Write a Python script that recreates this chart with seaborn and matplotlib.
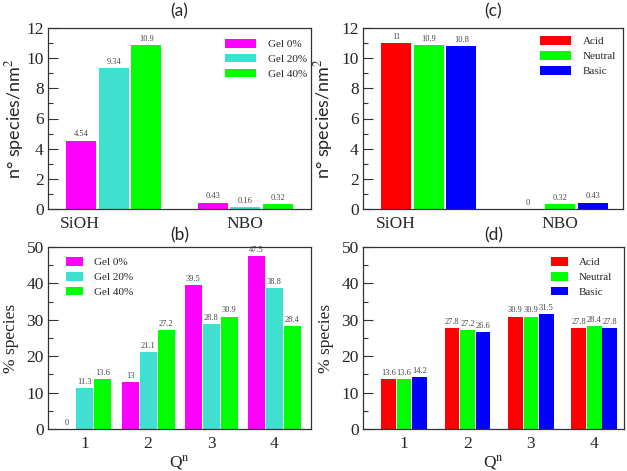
import matplotlib
matplotlib.use("Agg")
import matplotlib.pyplot as plt
import pandas as pd
import seaborn as sns
from matplotlib.ticker import MultipleLocator

# ---- data ----
sites = ['SiOH', 'NBO']
gel_levels = ['Gel 0%', 'Gel 20%', 'Gel 40%']
gel0_a = [4.54, 0.43]
gel20_a = [9.34, 0.16]
gel40_a = [10.9, 0.32]

ph_levels = ['Acid', 'Neutral', 'Basic']
acid_c = [11, 0]
neutral_c = [10.9, 0.32]
basic_c = [10.8, 0.43]

qn = ['1', '2', '3', '4']
gel0_b = [0, 13, 39.5, 47.5]
gel20_b = [11.3, 21.1, 28.8, 38.8]
gel40_b = [13.6, 27.2, 30.9, 28.4]

acid_d = [13.6, 27.8, 30.9, 27.8]
neutral_d = [13.6, 27.2, 30.9, 28.4]
basic_d = [14.2, 26.6, 31.5, 27.8]

gel_colors = ['#ff00ff', '#40e0d0', '#00ff00']
ph_colors = ['#ff0000', '#00ff00', '#0000ff']

sns.set_theme(style='white')
SERIF = ['Liberation Serif', 'DejaVu Serif']
SANS = ['Lato', 'DejaVu Sans']
plt.rcParams['font.family'] = SERIF
plt.rcParams['mathtext.fontset'] = 'stix'


def long_df(cats, levels, series):
    rows = []
    for lev, vals in zip(levels, series):
        for c, v in zip(cats, vals):
            rows.append({'cat': c, 'grp': lev, 'val': v})
    return pd.DataFrame(rows)


def px_axes(fig, l, r, t, b, W=627, H=471):
    return fig.add_axes([l / W, (H - b) / H, (r - l) / W, (b - t) / H])


def style_axes(ax, ymax, major, minor):
    ax.set_ylim(0, ymax)
    ax.yaxis.set_major_locator(MultipleLocator(major))
    ax.yaxis.set_minor_locator(MultipleLocator(minor))
    ax.tick_params(axis='y', which='major', direction='in', length=7, width=0.8,
                   labelsize=12.5, left=True, right=False, color='#333333', pad=3)
    ax.tick_params(axis='y', which='minor', direction='in', length=3.5, width=0.8,
                   left=True, right=False, color='#333333')
    ax.tick_params(axis='x', length=0, labelsize=12.5, pad=5)
    for s in ax.spines.values():
        s.set_color('#333333')
        s.set_linewidth(0.9)


def draw(ax, cats, levels, series, colors, width, gap):
    df = long_df(cats, levels, series)
    sns.barplot(data=df, x='cat', y='val', hue='grp', order=cats, hue_order=levels,
                palette=colors, width=width, gap=gap, saturation=1,
                linewidth=0, errorbar=None, ax=ax)
    for cont, vals in zip(ax.containers, series):
        ax.bar_label(cont, labels=[f'{v:g}' for v in vals], fontsize=6,
                     color='#444444', padding=1.5)
    ax.set_xlabel('')
    ax.set_ylabel('')


def legend(ax, x, y, hl, hh, tp):
    h, l = ax.get_legend_handles_labels()
    ax.legend(h, l, loc='upper left', bbox_to_anchor=(x, y), frameon=False,
              fontsize=8, handlelength=hl, handleheight=hh, handletextpad=tp,
              labelspacing=0.42, borderpad=0, borderaxespad=0)


fig = plt.figure(figsize=(6.27, 4.71), dpi=100)

# (a)
ax_a = px_axes(fig, 48, 311, 28, 209)
draw(ax_a, sites, gel_levels, [gel0_a, gel20_a, gel40_a], gel_colors, 0.745, 0.08)
style_axes(ax_a, 12, 2, 1)
ax_a.set_xlim(-0.5, 1.5)
ax_a.set_xticks([-0.26, 1], sites)
ax_a.set_ylabel(r'n° species/nm$^{2}$', fontsize=13, family=SANS)
ax_a.yaxis.set_label_coords(-0.085, 0.5)
ax_a.set_title('(a)', fontsize=12.5, family=SANS, pad=8)
legend(ax_a, 0.673, 0.94, 2.8, 0.83, 1.1)

# (c)
ax_c = px_axes(fig, 363, 623, 28, 209)
draw(ax_c, sites, ph_levels, [acid_c, neutral_c, basic_c], ph_colors, 0.745, 0.08)
style_axes(ax_c, 12, 2, 1)
ax_c.set_xlim(-0.5, 1.48)
ax_c.set_xticks([-0.25, 1], sites)
ax_c.set_ylabel(r'n° species/nm$^{2}$', fontsize=13, family=SANS)
ax_c.yaxis.set_label_coords(-0.106, 0.5)
ax_c.set_title('(c)', fontsize=12.5, family=SANS, pad=8)
legend(ax_c, 0.68, 0.955, 2.8, 0.83, 1.1)

# (b)
ax_b = px_axes(fig, 48, 311, 247, 429)
draw(ax_b, qn, gel_levels, [gel0_b, gel20_b, gel40_b], gel_colors, 0.855, 0.06)
style_axes(ax_b, 50, 10, 5)
ax_b.set_xlim(-0.585, 3.58)
ax_b.set_ylabel('% species', fontsize=12.5, family=SERIF)
ax_b.yaxis.set_label_coords(-0.11, 0.5)
ax_b.set_xlabel(r'Q$^{\mathrm{n}}$', fontsize=12.5, family=SERIF, labelpad=1)
ax_b.set_title('(b)', fontsize=12.5, family=SANS, pad=5)
legend(ax_b, 0.068, 0.945, 1.5, 0.83, 1.0)

# (d)
ax_d = px_axes(fig, 363, 624, 247, 429)
draw(ax_d, qn, ph_levels, [acid_d, neutral_d, basic_d], ph_colors, 0.735, 0.06)
style_axes(ax_d, 50, 10, 5)
ax_d.set_xlim(-0.65, 3.47)
ax_d.set_ylabel('% species', fontsize=12.5, family=SERIF)
ax_d.yaxis.set_label_coords(-0.111, 0.5)
ax_d.set_xlabel(r'Q$^{\mathrm{n}}$', fontsize=12.5, family=SERIF, labelpad=1)
ax_d.set_title('(d)', fontsize=12.5, family=SANS, pad=5)
legend(ax_d, 0.72, 0.945, 1.5, 0.83, 1.0)

fig.savefig('out.png', dpi=100)
